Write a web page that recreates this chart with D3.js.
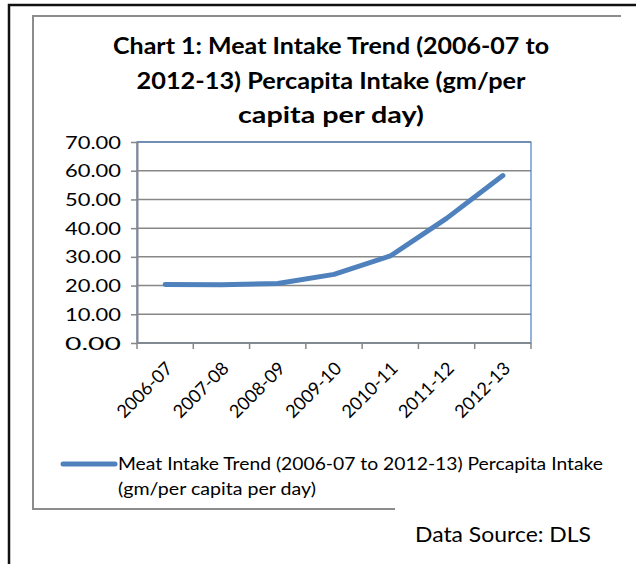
<!DOCTYPE html>
<html>
<head>
<meta charset="utf-8">
<script src="https://cdn.jsdelivr.net/npm/d3@7"></script>
<style>
  html, body { margin: 0; padding: 0; background: #ffffff; }
  svg { display: block; }
  text { font-family: Lato, "Open Sans", sans-serif; fill: #000; }
</style>
</head>
<body>
<svg id="chart" width="636" height="564"></svg>
<script>
// Per-capita meat intake, gm per capita per day
const categories = ["2006-07", "2007-08", "2008-09", "2009-10", "2010-11", "2011-12", "2012-13"];
const intake = [20.4, 20.3, 20.7, 23.9, 30.3, 43.4, 58.3];
const yTicks = [0, 10, 20, 30, 40, 50, 60, 70];
const titleLines = ["Chart 1: Meat Intake Trend (2006-07 to", "2012-13) Percapita Intake (gm/per", "capita per day)"];
const legendLines = ["Meat Intake Trend (2006-07 to 2012-13) Percapita Intake", "(gm/per capita per day)"];
const sourceNote = "Data Source: DLS";

const svg = d3.select("#chart");
const BLUE = "#4f81bd";
const GRID = "#878787";

const plot = { left: 137, right: 531, top: 142, bottom: 343 };

const x = d3.scaleBand().domain(categories).range([plot.left, plot.right]).padding(0);
const y = d3.scaleLinear().domain([0, 70]).range([plot.bottom, plot.top]);

// outer page frame (black) and chart frame (gray)
svg.append("path").attr("d", "M9,564 V5 H636")
  .attr("fill", "none").attr("stroke", "#111").attr("stroke-width", 2.5);
svg.append("path").attr("d", "M621,16 H33 V509 H395")
  .attr("fill", "none").attr("stroke", "#8c8c8c").attr("stroke-width", 2);

// title
const titleWidths = [436, 389, 186];
svg.append("g").selectAll("text").data(titleLines).join("text")
  .attr("x", 331).attr("y", (d, i) => 54 + i * 34.5)
  .attr("text-anchor", "middle")
  .attr("font-size", 22).attr("font-weight", "bold")
  .attr("textLength", (d, i) => titleWidths[i])
  .attr("lengthAdjust", "spacingAndGlyphs")
  .text(d => d);

// horizontal gridlines
svg.append("g").selectAll("line").data(yTicks).join("line")
  .attr("x1", plot.left).attr("x2", plot.right)
  .attr("y1", d => y(d)).attr("y2", d => y(d))
  .attr("stroke", GRID).attr("stroke-width", 1.5);

// plot area border
svg.append("rect")
  .attr("x", plot.left).attr("y", plot.top)
  .attr("width", plot.right - plot.left).attr("height", plot.bottom - plot.top)
  .attr("fill", "none").attr("stroke", BLUE).attr("stroke-width", 1.2);

// y axis
const yAxis = svg.append("g").attr("transform", `translate(${plot.left},0)`)
  .call(d3.axisLeft(y).tickValues(yTicks).tickFormat(d3.format(".2f")).tickSize(6).tickPadding(10).tickSizeOuter(0));
yAxis.select(".domain").attr("stroke", GRID).attr("stroke-width", 2);
yAxis.selectAll(".tick line").attr("stroke", GRID).attr("stroke-width", 1.5);
yAxis.selectAll(".tick text")
  .attr("font-size", 17).attr("font-family", "Lato, sans-serif")
  .attr("dy", "0.36em")
  .attr("textLength", 56).attr("lengthAdjust", "spacingAndGlyphs");

// x axis: ticks on category boundaries, labels rotated at category centres
const xAxis = svg.append("g").attr("transform", `translate(0,${plot.bottom})`);
xAxis.append("line").attr("x1", plot.left).attr("x2", plot.right)
  .attr("y1", 0).attr("y2", 0).attr("stroke", GRID).attr("stroke-width", 1.5);
const boundaries = categories.map(c => x(c)).concat([x.range()[1]]);
xAxis.selectAll("line.tk").data(boundaries).join("line").attr("class", "tk")
  .attr("x1", d => d).attr("x2", d => d).attr("y1", 0).attr("y2", 6)
  .attr("stroke", GRID).attr("stroke-width", 1.5);
xAxis.selectAll("text").data(categories).join("text")
  .attr("transform", d => `translate(${x(d) + x.bandwidth() / 2 + 4},${22}) rotate(-45)`)
  .attr("text-anchor", "end")
  .attr("dy", "0.36em")
  .attr("font-size", 18)
  .attr("textLength", 70).attr("lengthAdjust", "spacingAndGlyphs")
  .text(d => d);

// data line
const line = d3.line()
  .x((d, i) => x(categories[i]) + x.bandwidth() / 2)
  .y(d => y(d));
svg.append("path").datum(intake)
  .attr("d", line)
  .attr("fill", "none").attr("stroke", BLUE).attr("stroke-width", 5)
  .attr("stroke-linecap", "round").attr("stroke-linejoin", "round");

// legend
svg.append("line").attr("x1", 63).attr("x2", 115).attr("y1", 464).attr("y2", 464)
  .attr("stroke", BLUE).attr("stroke-width", 5).attr("stroke-linecap", "round");
const legendWidths = [485, 198];
svg.append("g").selectAll("text").data(legendLines).join("text")
  .attr("x", 118).attr("y", (d, i) => 470 + i * 25)
  .attr("font-size", 18)
  .attr("textLength", (d, i) => legendWidths[i])
  .attr("lengthAdjust", "spacingAndGlyphs")
  .text(d => d);

// source note
svg.append("text").attr("x", 415).attr("y", 542)
  .attr("font-size", 21)
  .attr("textLength", 176).attr("lengthAdjust", "spacingAndGlyphs")
  .text(sourceNote);
</script>
</body>
</html>
